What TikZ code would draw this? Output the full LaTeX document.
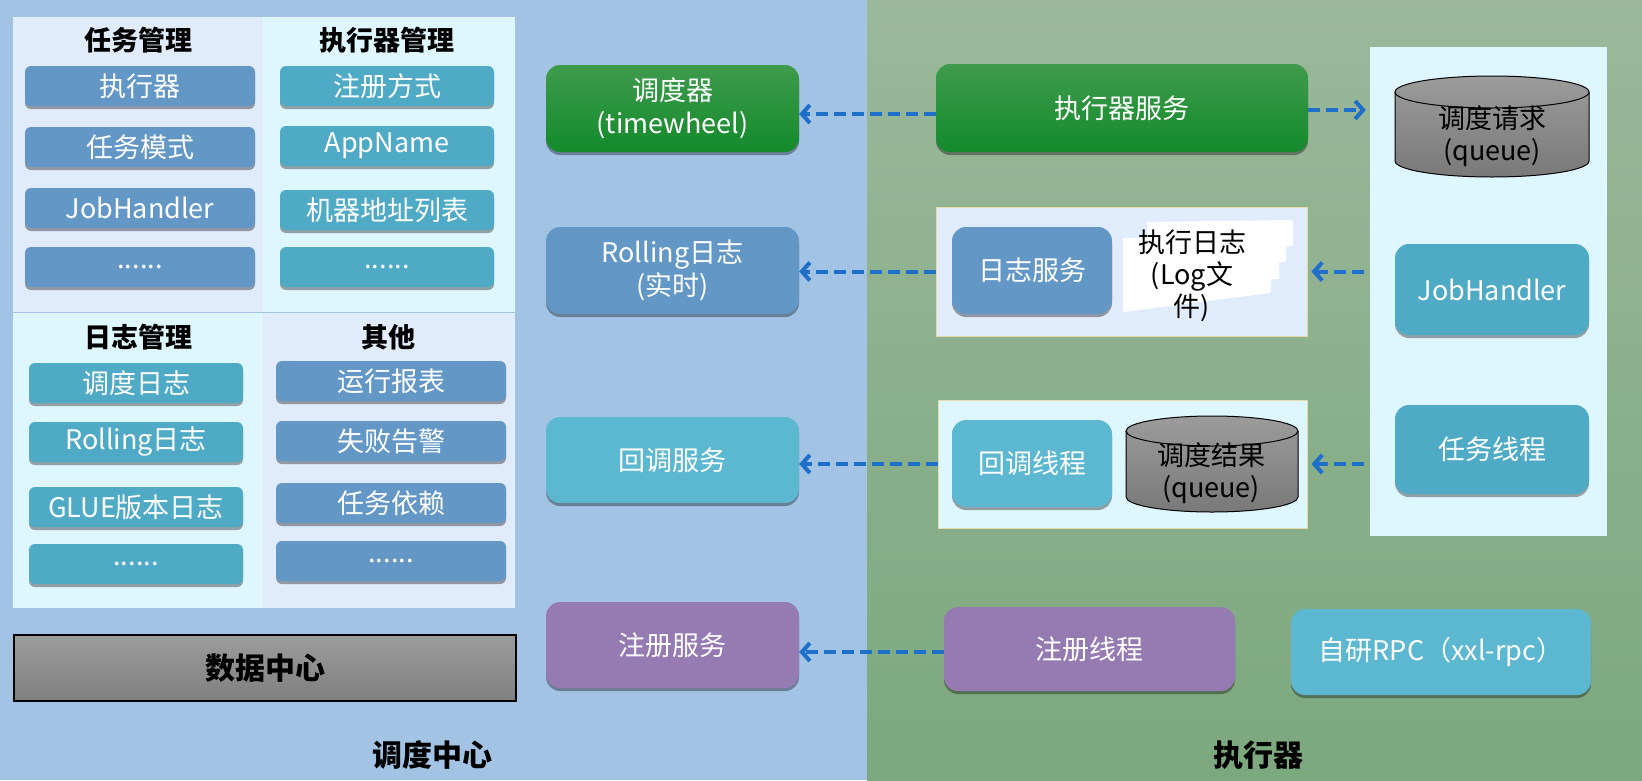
\documentclass[tikz,border=0pt]{standalone}
\usepackage{fontspec}
\setmainfont{Noto Sans CJK SC}
\usetikzlibrary{arrows.meta,shadows,calc}
\definecolor{bgblue}{HTML}{A3C3E5}
\definecolor{greentop}{HTML}{9BB89B}
\definecolor{greenbot}{HTML}{7CA87E}
\definecolor{lav}{HTML}{E0EBFB}
\definecolor{pcyan}{HTML}{DEF6FD}
\definecolor{steel}{HTML}{6397C6}
\definecolor{teal}{HTML}{4FABC5}
\definecolor{lteal}{HTML}{5CB7D0}
\definecolor{purp}{HTML}{957BB1}
\definecolor{gtop}{HTML}{3F9B4D}
\definecolor{gbot}{HTML}{138A2B}
\definecolor{arrowblue}{HTML}{1E6FC9}
\definecolor{tanline}{HTML}{E8D9A8}
\tikzset{
  shad/.style={drop shadow={shadow xshift=0pt, shadow yshift=-3pt, opacity=0.35, fill=black}},
  lbox/.style={rounded corners=6pt, minimum height=40pt, inner sep=0pt, text=white,
    font=\fontsize{27}{30}\selectfont, shad},
  cbox/.style={rounded corners=14pt, inner sep=0pt, text=white, align=center,
    font=\fontsize{27}{33}\selectfont, shad},
  head/.style={font=\bfseries\fontsize{27}{32}\selectfont, text=black, inner sep=0pt},
  biglabel/.style={font=\bfseries\fontsize{30}{34}\selectfont, text=black, inner sep=0pt},
  blk/.style={text=black, align=center, inner sep=0pt, font=\fontsize{27}{32}\selectfont},
  area/.style={inner sep=0pt, draw=none},
  flow/.style={draw=arrowblue, line width=4pt, dash pattern=on 12pt off 6pt,
    -{Straight Barb[length=8pt,width=18pt]}},
  cyl/.style={draw=black, line width=1pt, top color=gray!78!white, bottom color=gray!95!black}
}
\begin{document}
\begin{tikzpicture}[x=1pt,y=-1pt]
\useasboundingbox (0,0) rectangle (1642,780);
% backgrounds
\fill[bgblue] (0,0) rectangle (867,780);
\shade[top color=greentop, bottom color=greenbot] (867,0) rectangle (1642,780);

% left management panel
\node[area, fill=lav, minimum width=250pt, minimum height=295pt] (q1) at (138,164.5) {};
\node[area, fill=pcyan, minimum width=252pt, minimum height=295pt] (q2) at (389,164.5) {};
\node[area, fill=pcyan, minimum width=250pt, minimum height=295pt] (q3) at (138,460.5) {};
\node[area, fill=lav, minimum width=252pt, minimum height=295pt] (q4) at (389,460.5) {};

\node[head] (h1) at (138,40) {任务管理};
\node[head] (h2) at (387,40) {执行器管理};
\node[head] (h3) at (138,337) {日志管理};
\node[head] (h4) at (388,337) {其他};

\node[lbox, fill=steel, minimum width=230pt] (a1) at (140,86) {执行器};
\node[lbox, fill=steel, minimum width=230pt] (a2) at (140,147) {任务模式};
\node[lbox, fill=steel, minimum width=230pt] (a3) at (140,208) {JobHandler};
\node[lbox, fill=steel, minimum width=230pt] (a4) at (140,267) {......};

\node[lbox, fill=teal, minimum width=214pt] (b1) at (387,86) {注册方式};
\node[lbox, fill=teal, minimum width=214pt] (b2) at (387,146) {AppName};
\node[lbox, fill=teal, minimum width=214pt] (b3) at (387,210) {机器地址列表};
\node[lbox, fill=teal, minimum width=214pt] (b4) at (387,267) {......};

\node[lbox, fill=teal, minimum width=214pt] (c1) at (136,383) {调度日志};
\node[lbox, fill=teal, minimum width=214pt] (c2) at (136,442) {Rolling日志};
\node[lbox, fill=teal, minimum width=214pt] (c3) at (136,507) {GLUE版本日志};
\node[lbox, fill=teal, minimum width=214pt] (c4) at (136,564) {......};

\node[lbox, fill=steel, minimum width=230pt] (d1) at (391,381) {运行报表};
\node[lbox, fill=steel, minimum width=230pt] (d2) at (391,441) {失败告警};
\node[lbox, fill=steel, minimum width=230pt] (d3) at (391,503) {任务依赖};
\node[lbox, fill=steel, minimum width=230pt] (d4) at (391,561) {......};

\node[draw=black, line width=2pt, top color=gray!78!white, bottom color=gray!100!black,
  minimum width=502pt, minimum height=66pt, inner sep=0pt] (data) at (265,668) {};
\node[biglabel] (datat) at (data.center) {数据中心};

% scheduling center column
\node[cbox, top color=gtop, bottom color=gbot, minimum width=253pt, minimum height=87pt] (sched) at (672.5,108.5) {调度器\\(timewheel)};
\node[cbox, fill=steel, minimum width=253pt, minimum height=87pt] (roll) at (672.5,270.5) {Rolling日志\\(实时)};
\node[cbox, fill=lteal, minimum width=253pt, minimum height=86pt] (cbsvc) at (672.5,460) {回调服务};
\node[cbox, fill=purp, minimum width=253pt, minimum height=86pt] (regsvc) at (672.5,645) {注册服务};

% executor side
\node[cbox, top color=gtop, bottom color=gbot, minimum width=372pt, minimum height=88pt] (execsvc) at (1122,108) {执行器服务};

\node[area, draw=tanline, line width=1pt, fill=lav, minimum width=371pt, minimum height=129pt] (logbox) at (1121.5,271.5) {};
\node[cbox, fill=steel, minimum width=160pt, minimum height=87pt] (logsvc) at (1032,270.5) {日志服务};
\fill[white] (1147,222) -- (1293,220) -- (1293,246) -- (1286,246) -- (1286,262) -- (1279,262)
  -- (1279,279) -- (1271,279) -- (1271,293) -- (1215,300) -- (1123,312) -- (1123,238) -- (1147,238) -- cycle;
\node[blk] (logtxt) at (1192,276) {执行日志\\(Log文\\件)};

\node[area, draw=tanline, line width=1pt, fill=pcyan, minimum width=369pt, minimum height=128pt] (cbbox) at (1122.5,464) {};
\node[cbox, fill=lteal, minimum width=160pt, minimum height=87pt] (cbth) at (1032,463.5) {回调线程};
% result queue cylinder
\path[cyl] (1126,431) -- (1126,497) arc[start angle=180,end angle=0,x radius=86,y radius=15]
  -- (1298,431) arc[start angle=0,end angle=-180,x radius=86,y radius=15] -- cycle;
\draw[black, line width=1pt] (1126,431) arc[start angle=180,end angle=0,x radius=86,y radius=15];
\node[blk] (resq) at (1211,473) {调度结果\\(queue)};

\node[cbox, fill=purp, minimum width=291pt, minimum height=84pt] (regth) at (1089.5,649) {注册线程};
\node[cbox, fill=lteal, minimum width=300pt, minimum height=86pt] (rpc) at (1441,652) {自研RPC（xxl-rpc）};

% right panel
\node[area, fill=pcyan, minimum width=237pt, minimum height=489pt] (rpanel) at (1488.5,291.5) {};
\path[cyl] (1395,92) -- (1395,161) arc[start angle=180,end angle=0,x radius=97,y radius=16]
  -- (1589,92) arc[start angle=0,end angle=-180,x radius=97,y radius=16] -- cycle;
\draw[black, line width=1pt] (1395,92) arc[start angle=180,end angle=0,x radius=97,y radius=16];
\node[blk] (reqq) at (1492,136.5) {调度请求\\(queue)};
\node[cbox, fill=teal, minimum width=194pt, minimum height=91pt] (jobh) at (1492,289.5) {JobHandler};
\node[cbox, fill=teal, minimum width=194pt, minimum height=89pt] (task) at (1492,449.5) {任务线程};

% labels
\node[biglabel] (lbl1) at (432,755) {调度中心};
\node[biglabel] (lbl2) at (1258,755) {执行器};

% connectors
\draw[flow] ([yshift=-6pt]execsvc.west) -- ([yshift=-6pt]execsvc.west -| sched.east);
\draw[flow] (logbox.west) -- (logbox.west -| roll.east);
\draw[flow] (cbbox.west) -- (cbbox.west -| cbsvc.east);
\draw[flow] ([yshift=-3pt]regth.west) -- ([yshift=-3pt]regth.west -| regsvc.east);
\draw[flow, shorten >=4pt] ([yshift=-2pt]execsvc.east) -- ([yshift=-2pt]execsvc.east -| rpanel.west);
\draw[flow, shorten <=6pt, shorten >=4pt] (logbox.east -| rpanel.west) -- (logbox.east);
\draw[flow, shorten <=6pt, shorten >=4pt] (cbbox.east -| rpanel.west) -- (cbbox.east);
\end{tikzpicture}
\end{document}
